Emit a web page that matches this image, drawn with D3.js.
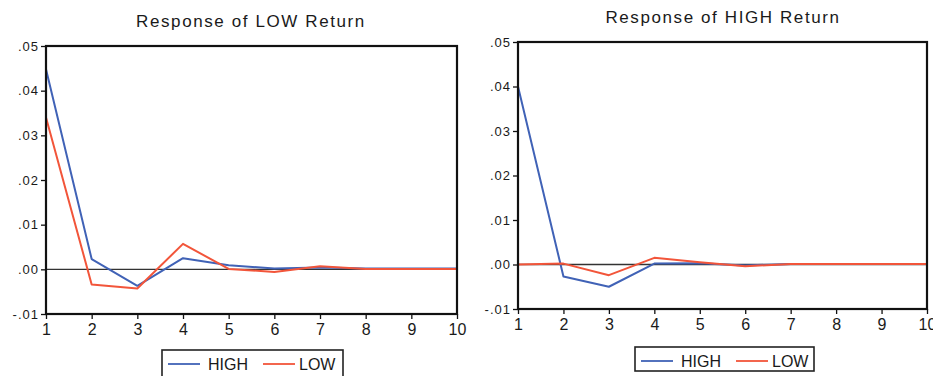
<!DOCTYPE html>
<html>
<head>
<meta charset="utf-8">
<script src="https://cdn.jsdelivr.net/npm/d3@7"></script>
<style>
  html, body { margin: 0; padding: 0; background: #fff; }
  svg { display: block; }
  text { font-family: "Liberation Sans", Arial, sans-serif; fill: #1a1a1a; }
</style>
</head>
<body>
<svg id="chart" width="933" height="376"></svg>
<script>
// ---- data ----
const periods = [1, 2, 3, 4, 5, 6, 7, 8, 9, 10];
const yTicks = [-0.01, 0.00, 0.01, 0.02, 0.03, 0.04, 0.05];
const seriesNames = ["HIGH", "LOW"];
const panelTitles = ["Response of LOW Return", "Response of HIGH Return"];

// Response of LOW Return
const lowResp_HIGH = [0.0448, 0.0023, -0.0037, 0.0025, 0.0009, 0.0002, 0.0004, 0.0002, 0.0002, 0.0002];
const lowResp_LOW  = [0.0340, -0.0034, -0.0043, 0.0057, 0.0001, -0.0006, 0.0007, 0.0001, 0.0001, 0.0001];
// Response of HIGH Return
const highResp_HIGH = [0.0400, -0.0027, -0.0050, 0.0002, 0.0003, -0.0002, 0.0001, 0.0001, 0.0001, 0.0001];
const highResp_LOW  = [0.0000, 0.0002, -0.0024, 0.0015, 0.0005, -0.0004, 0.0001, 0.0001, 0.0001, 0.0001];

const colors = { HIGH: "#4062b6", LOW: "#f2553a" };

const panels = [
  { title: panelTitles[0], series: { HIGH: lowResp_HIGH, LOW: lowResp_LOW },
    x0: 46, x1: 457, y0: 46, y1: 314, titleX: 251, titleY: 27,
    legend: { x: 162, y: 350, w: 181, h: 28 } },
  { title: panelTitles[1], series: { HIGH: highResp_HIGH, LOW: highResp_LOW },
    x0: 518, x1: 927, y0: 42, y1: 309, titleX: 723, titleY: 23,
    legend: { x: 635, y: 347, w: 179, h: 24 } }
];

const svg = d3.select("#chart");
const fmt = d => (d < 0 ? "-" : "") + d3.format(".2f")(Math.abs(d)).replace(/^0/, "");

panels.forEach(p => {
  const g = svg.append("g");
  const x = d3.scaleLinear().domain([1, 10]).range([p.x0, p.x1]);
  const y = d3.scaleLinear().domain([-0.01, 0.05]).range([p.y1, p.y0]);

  // title
  g.append("text").attr("x", p.titleX).attr("y", p.titleY)
    .attr("text-anchor", "middle").style("font-size", "17px").style("letter-spacing", "1.6px")
    .text(p.title);

  // zero line
  g.append("line").attr("x1", p.x0).attr("x2", p.x1)
    .attr("y1", y(0)).attr("y2", y(0))
    .attr("stroke", "#333").attr("stroke-width", 1.3);

  // series lines
  const line = d3.line().x((d, i) => x(periods[i])).y(d => y(d));
  seriesNames.forEach(name => {
    g.append("path").datum(p.series[name])
      .attr("d", line).attr("fill", "none")
      .attr("stroke", colors[name]).attr("stroke-width", 2)
      .attr("stroke-linejoin", "round");
  });

  // frame
  g.append("rect").attr("x", p.x0).attr("y", p.y0)
    .attr("width", p.x1 - p.x0).attr("height", p.y1 - p.y0)
    .attr("fill", "none").attr("stroke", "#111").attr("stroke-width", 2.2);

  // y axis
  const yAxis = d3.axisLeft(y).tickValues(yTicks).tickFormat(fmt).tickSize(5).tickPadding(2);
  const ya = g.append("g").attr("transform", `translate(${p.x0},0)`).call(yAxis);
  ya.select(".domain").remove();
  ya.selectAll("line").attr("stroke", "#111").attr("stroke-width", 1.3);
  ya.selectAll("text").style("font-size", "13px").style("letter-spacing", "1px")
    .style("font-family", "Liberation Sans, Arial, sans-serif").attr("fill", "#1a1a1a");

  // x axis
  const xAxis = d3.axisBottom(x).tickValues(periods).tickFormat(d3.format("d")).tickSize(5).tickPadding(5);
  const xa = g.append("g").attr("transform", `translate(0,${p.y1})`).call(xAxis);
  xa.select(".domain").remove();
  xa.selectAll("line").attr("stroke", "#111").attr("stroke-width", 1.3);
  xa.selectAll("text").style("font-size", "16px")
    .style("font-family", "Liberation Sans, Arial, sans-serif").attr("fill", "#1a1a1a");

  // legend
  const L = p.legend;
  const lg = g.append("g").attr("transform", `translate(${L.x},${L.y})`);
  lg.append("rect").attr("width", L.w).attr("height", L.h)
    .attr("fill", "#fff").attr("stroke", "#222").attr("stroke-width", 1.6);
  const items = [
    { name: "HIGH", lx: 6, tx: 46 },
    { name: "LOW", lx: 101, tx: 137 }
  ];
  items.forEach(it => {
    lg.append("line").attr("x1", it.lx).attr("x2", it.lx + 32)
      .attr("y1", 14).attr("y2", 14)
      .attr("stroke", colors[it.name]).attr("stroke-width", 1.8);
    lg.append("text").attr("x", it.tx).attr("y", 19.5)
      .style("font-size", "16px").text(it.name);
  });
});
</script>
</body>
</html>
